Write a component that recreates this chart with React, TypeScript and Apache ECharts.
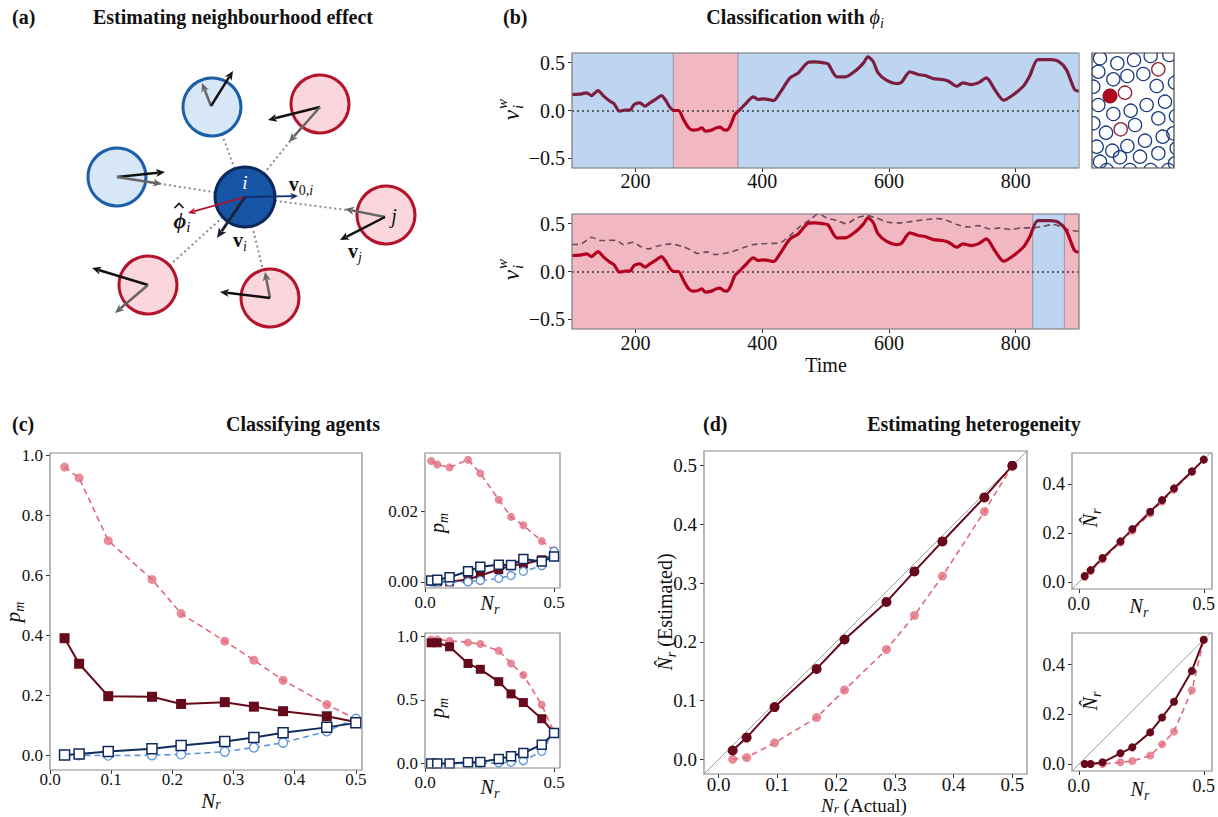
import React, { useEffect, useRef } from "react";
import * as echarts from "echarts";

const SERIF = "Liberation Serif";

// ---------- Panel (b): time series ----------
const signalTime = [100,112,123,131,141,150,160,166,175,183,191,198,207,215,223,233,241,247,255,261,268,276,284,291,299,305,310,320,328,334,339,344,350,357,365,373,386,394,402,410,418,428,444,457,473,483,497,504,518,531,549,560,567,575,583,596,612,620,633,646,657,670,684,694,707,717,730,741,754,767,781,793,812,822,835,854,867,880,893,900];
const signalValue = [0.167,0.170,0.184,0.156,0.208,0.150,0.097,0.073,-0.007,0.003,0.003,0.063,0.080,0.045,0.080,0.122,0.156,0.115,0.028,0.000,0.000,-0.094,-0.180,-0.205,-0.198,-0.180,-0.215,-0.205,-0.180,-0.174,-0.198,-0.205,-0.156,-0.042,0.010,0.063,0.142,0.115,0.122,0.115,0.104,0.184,0.340,0.392,0.503,0.507,0.497,0.486,0.351,0.351,0.424,0.497,0.559,0.514,0.392,0.316,0.281,0.295,0.403,0.375,0.365,0.333,0.323,0.306,0.253,0.288,0.271,0.288,0.340,0.219,0.108,0.149,0.253,0.358,0.531,0.531,0.514,0.427,0.219,0.200];
const refTime = [100,115,131,144,170,181,197,207,220,234,257,273,286,299,313,326,339,352,370,386,407,428,444,460,476,489,502,518,533,549,565,580,602,617,638,659,678,691,707,725,741,759,775,793,809,827,843,859,875,888,900];
const refValue = [0.281,0.288,0.358,0.323,0.326,0.281,0.306,0.264,0.236,0.264,0.288,0.264,0.229,0.188,0.205,0.177,0.188,0.205,0.247,0.281,0.292,0.299,0.375,0.472,0.542,0.601,0.559,0.531,0.497,0.559,0.583,0.559,0.510,0.507,0.524,0.542,0.552,0.535,0.490,0.465,0.479,0.444,0.455,0.438,0.455,0.455,0.472,0.490,0.455,0.427,0.420];
const timeRange = [100, 900];
const topRedBand = [260, 362];
const bottomBlueBand = [827, 877];
const timeTicks = [200, 400, 600, 800];
const vTicks = [-0.5, 0, 0.5];

// ---------- Panels (c) and (d) ----------
const nr = [0.0238, 0.0476, 0.0952, 0.1667, 0.2143, 0.2857, 0.3333, 0.381, 0.4524, 0.5];

const cMainPink = [0.961, 0.925, 0.716, 0.587, 0.473, 0.381, 0.318, 0.251, 0.170, 0.122];
const cMainMaroon = [0.391, 0.306, 0.198, 0.196, 0.172, 0.178, 0.163, 0.148, 0.131, 0.112];
const cMainNavy = [0.002, 0.005, 0.014, 0.023, 0.034, 0.047, 0.060, 0.076, 0.094, 0.109];
const cMainLightBlue = [0.001, 0.001, 0.0, 0.001, 0.004, 0.013, 0.027, 0.043, 0.081, 0.123];

const cTopPink = [0.0344, 0.0334, 0.0326, 0.0348, 0.0309, 0.0234, 0.0185, 0.0161, 0.0116, 0.009];
const cTopMaroon = [0.0002, 0.0, 0.0, 0.0007, 0.0018, 0.0035, 0.0046, 0.0051, 0.0063, 0.0077];
const cTopNavy = [0.0004, 0.0006, 0.0013, 0.003, 0.0043, 0.0049, 0.0048, 0.0065, 0.0058, 0.0072];
const cTopLightBlue = [0.0, 0.0, 0.0, 0.0, 0.0004, 0.001, 0.0018, 0.003, 0.0046, 0.0087];

const cBotPink = [0.974, 0.974, 0.964, 0.951, 0.938, 0.885, 0.786, 0.695, 0.461, 0.245];
const cBotMaroon = [0.948, 0.948, 0.917, 0.786, 0.74, 0.643, 0.547, 0.479, 0.352, 0.24];
const cBotNavy = [0.0, 0.0, 0.0, 0.01, 0.013, 0.036, 0.057, 0.083, 0.148, 0.24];
const cBotLightBlue = [0.0, 0.0, 0.0, 0.0, 0.0, 0.005, 0.01, 0.023, 0.096, 0.245];

const dMainMaroon = [0.015, 0.037, 0.089, 0.154, 0.204, 0.268, 0.320, 0.371, 0.446, 0.5];
const dMainPink = [0.0, 0.003, 0.028, 0.071, 0.118, 0.187, 0.245, 0.312, 0.422, 0.5];
const dTopMaroon = [0.026, 0.05, 0.099, 0.167, 0.217, 0.288, 0.335, 0.383, 0.452, 0.5];
const dTopPink = [0.022, 0.046, 0.093, 0.162, 0.21, 0.28, 0.329, 0.377, 0.45, 0.5];
const dBotMaroon = [0.001, 0.001, 0.008, 0.044, 0.068, 0.128, 0.188, 0.251, 0.375, 0.5];
const dBotPink = [0.001, 0.001, 0.001, 0.008, 0.013, 0.035, 0.08, 0.131, 0.297, 0.5];

const diagonal = [-0.03, 0.53];
const tenthTicks = [0, 0.1, 0.2, 0.3, 0.4, 0.5];
const fifthTicks = [0, 0.2, 0.4, 0.6, 0.8, 1.0];
const halfTicks = [0, 0.5];
const halfOneTicks = [0, 0.5, 1.0];
const smallPmTicks = [0, 0.02];
const smallNrTicks = [0, 0.2, 0.4];

// ---------- colours ----------
const MAROON = "#66091b";
const PINK = "#e06a7c";
const PINK_FILL = "rgba(224,106,124,0.78)";
const NAVY = "#0f2a5c";
const LBLUE = "#5b95d8";
const SIG_MAROON = "#7b1e40";
const SIG_RED = "#b4001f";
const BAND_BLUE = "#bdd5f1";
const BAND_RED = "#f1b8c1";
const FRAME = "#8a8a8a";

// grid layout (page pixels)
const GRIDS = [
  { left: 572, top: 53, width: 507, height: 115 },   // b top
  { left: 572, top: 214, width: 507, height: 115 },  // b bottom
  { left: 50, top: 453, width: 312, height: 317 },   // c main
  { left: 425, top: 453, width: 135, height: 135 },  // c small top
  { left: 425, top: 633, width: 135, height: 135 },  // c small bottom
  { left: 704, top: 451, width: 323, height: 323 },  // d main
  { left: 1072, top: 453, width: 140, height: 136 }, // d small top
  { left: 1072, top: 633, width: 140, height: 138 }, // d small bottom
];

const fmt = (v: number, d: number) => Number(v).toFixed(d).replace("-", "\u2212");

function axis(gi: number, range: number[], ticks: number[], dec: number, fs: number, margin = 7) {
  return {
    type: "value",
    gridIndex: gi,
    min: range[0],
    max: range[1],
    splitLine: { show: false },
    axisLine: { show: false, onZero: false },
    axisTick: { show: true, customValues: ticks, length: 4, lineStyle: { color: "#333", width: 1 } },
    axisLabel: {
      show: true,
      customValues: ticks,
      formatter: (v: number) => "{n|" + fmt(v, dec) + "}",
      color: "#111",
      fontFamily: SERIF,
      fontSize: fs,
      margin,
      hideOverlap: false,
      rich: { n: { fontFamily: SERIF, fontSize: fs, color: "#111", lineHeight: fs } },
    },
  };
}

function pts(ys: number[]) {
  return nr.map((x, i) => [x, ys[i]]);
}

function mk(gi: number, ys: number[], kind: string, size: number) {
  const base: any = { type: "line", xAxisIndex: gi, yAxisIndex: gi, data: pts(ys), symbolSize: size, showSymbol: true, z: 3 };
  if (kind === "pink") {
    return { ...base, symbol: "circle", lineStyle: { color: PINK, width: 1.6, type: [6, 4] }, itemStyle: { color: PINK_FILL } };
  }
  if (kind === "maroonSq") {
    return { ...base, symbol: "rect", lineStyle: { color: MAROON, width: 2 }, itemStyle: { color: MAROON } };
  }
  if (kind === "maroonCirc") {
    return { ...base, symbol: "circle", lineStyle: { color: MAROON, width: 2 }, itemStyle: { color: MAROON } };
  }
  if (kind === "navy") {
    return { ...base, z: 4, symbol: "rect", lineStyle: { color: NAVY, width: 2 }, itemStyle: { color: "#fff", borderColor: NAVY, borderWidth: 1.5 } };
  }
  return { ...base, symbol: "circle", lineStyle: { color: LBLUE, width: 1.6, type: [6, 4] }, itemStyle: { color: "#fff", borderColor: LBLUE, borderWidth: 1.3 } };
}

function diag(gi: number) {
  return {
    type: "line", xAxisIndex: gi, yAxisIndex: gi, silent: true, symbol: "none", z: 1,
    data: [[diagonal[0], diagonal[0]], [diagonal[1], diagonal[1]]],
    lineStyle: { color: "#a0a0a0", width: 1 },
  };
}

// ---------- graphic helpers ----------
function txt(x: number, y: number, text: string, size: number, o: any = {}) {
  const align = o.align || "center";
  return {
    type: "text", x, y, z: 20, rotation: o.rotation || 0,
    style: {
      text, fontFamily: SERIF, fontSize: size,
      fontWeight: o.bold ? "bold" : "normal",
      fontStyle: o.italic ? "italic" : "normal",
      fill: o.color || "#111",
      align, verticalAlign: "middle", textAlign: align, textVerticalAlign: "middle",
      rich: o.rich,
    },
  };
}

function mathRich(size: number, color = "#111", lh = size + 6) {
  const sub = Math.round(size * 0.68);
  return {
    it: { fontFamily: SERIF, fontStyle: "italic", fontSize: size, lineHeight: lh, color },
    rm: { fontFamily: SERIF, fontSize: size, lineHeight: lh, color },
    bd: { fontFamily: SERIF, fontWeight: "bold", fontSize: size, lineHeight: lh, color },
    bi: { fontFamily: SERIF, fontWeight: "bold", fontStyle: "italic", fontSize: size, lineHeight: lh, color },
    sub: { fontFamily: SERIF, fontStyle: "italic", fontSize: sub, lineHeight: sub, verticalAlign: "bottom", color },
    subrm: { fontFamily: SERIF, fontSize: sub, lineHeight: sub, verticalAlign: "bottom", color },
  };
}

function math(x: number, y: number, text: string, size: number, rotation = 0, color = "#111", lh?: number) {
  return txt(x, y, text, size, { rotation, rich: mathRich(size, color, lh ?? size + 6), color });
}

function arrow(x1: number, y1: number, x2: number, y2: number, color: string, width: number, head = 9, headW = 8) {
  const dx = x2 - x1, dy = y2 - y1;
  const L = Math.hypot(dx, dy);
  const ux = dx / L, uy = dy / L;
  const bx = x2 - ux * head, by = y2 - uy * head;
  const px = -uy, py = ux;
  return [
    { type: "line", z: 6, shape: { x1, y1, x2: bx + ux * 2, y2: by + uy * 2 }, style: { stroke: color, lineWidth: width, lineCap: "butt" } },
    {
      type: "polygon", z: 6,
      shape: { points: [[x2, y2], [bx + (px * headW) / 2, by + (py * headW) / 2], [bx + ux * 2.5, by + uy * 2.5], [bx - (px * headW) / 2, by - (py * headW) / 2]] },
      style: { fill: color },
    },
  ];
}

function buildGraphics() {
  const els: any[] = [];
  // ---- titles ----
  els.push(txt(12, 17, "(a)", 20, { bold: true, align: "left" }));
  els.push(txt(233, 17, "Estimating neighbourhood effect", 20, { bold: true }));
  els.push(txt(503, 17, "(b)", 20, { bold: true, align: "left" }));
  els.push(math(795, 17, "{bd|Classification with }{it|\u03D5}{sub|i}", 20));
  els.push(txt(12, 424, "(c)", 20, { bold: true, align: "left" }));
  els.push(txt(303, 424, "Classifying agents", 20, { bold: true }));
  els.push(txt(703, 424, "(d)", 20, { bold: true, align: "left" }));
  els.push(txt(974, 424, "Estimating heterogeneity", 20, { bold: true }));

  // ---- panel (a) diagram ----
  const cx = 245, cy = 197, R = 29;
  const neighbours = [
    { x: 212, y: 107, blue: true },
    { x: 117, y: 177, blue: true },
    { x: 320, y: 104, blue: false },
    { x: 386, y: 215, blue: false },
    { x: 148, y: 285, blue: false },
    { x: 270, y: 298, blue: false },
  ];
  neighbours.forEach((n) => {
    els.push({ type: "line", z: 2, shape: { x1: cx, y1: cy, x2: n.x, y2: n.y }, style: { stroke: "#8c8c8c", lineWidth: 2, lineDash: [2, 3] } });
  });
  neighbours.forEach((n) => {
    els.push({
      type: "circle", z: 3, shape: { cx: n.x, cy: n.y, r: R },
      style: n.blue ? { fill: "#d8e7f7", stroke: "#1b5fa9", lineWidth: 3 } : { fill: "#fbd6dd", stroke: "#b3142c", lineWidth: 3 },
    });
  });
  els.push({ type: "circle", z: 3, shape: { cx, cy, r: 30 }, style: { fill: "#1655a6", stroke: "#0b2858", lineWidth: 3 } });

  const K = "#111", G = "#666";
  const arrows = [
    [211, 106, 202, 83, G, 2.5], [211, 106, 233, 71, K, 2.5],
    [117, 177, 165, 172, K, 2.5], [117, 177, 162, 184, G, 2.5],
    [320, 107, 268, 120, K, 2.5], [320, 107, 289, 142, G, 2.5],
    [385, 217, 345, 209, G, 2.5], [385, 217, 340, 240, K, 2.5],
    [148, 285, 92, 268, K, 2.5], [148, 285, 115, 313, G, 2.5],
    [270, 298, 265, 272, G, 2.5], [270, 298, 220, 292, K, 2.5],
  ];
  arrows.forEach((a: any) => els.push(...arrow(a[0], a[1], a[2], a[3], a[4], a[5])));
  els.push(...arrow(cx, cy, 298, 196, "#0c2a6a", 1.6, 8, 7));
  els.push(...arrow(cx, cy, 188, 213, "#b0102a", 1.6, 8, 7));
  els.push(...arrow(cx, cy, 217, 238, "#1e2232", 2.8, 10, 9));

  els.push(txt(245, 182, "i", 19, { italic: true, color: "#ffffff" }));
  els.push(math(301, 184, "{bd|v}{subrm|0,}{sub|i}", 20));
  // hat-phi with subscript: the hat is a small drawn caret
  els.push(math(182, 220, "{bi|\u03D5}{sub|i}", 22));
  els.push({ type: "polyline", z: 20, shape: { points: [[174.5, 208], [179, 203.5], [183.5, 208]] }, style: { stroke: "#111", lineWidth: 1.7, fill: "none" } });
  els.push(math(240, 240, "{bd|v}{sub|i}", 20));
  els.push(txt(394, 216, "j", 20, { italic: true }));
  els.push(math(355, 251, "{bd|v}{sub|j}", 20));

  // ---- panel (b) inset of agents ----
  const ib = { x: 1092, y: 53, w: 82, h: 115 };
  const navyCircles = [
    [660, 55], [712, 70], [762, 60], [812, 48], [868, 45],
    [655, 95], [700, 118], [742, 108], [790, 102], [885, 128], [830, 138],
    [655, 195], [700, 222], [752, 212], [800, 195], [855, 185], [888, 228],
    [678, 278], [765, 255], [835, 235], [880, 280],
    [650, 320], [697, 332], [742, 318], [795, 302], [848, 290], [890, 325],
    [660, 365], [720, 352], [780, 350], [835, 340], [885, 370],
    [680, 390], [750, 390], [812, 390], [865, 390], [640, 140], [640, 250],
  ];
  const redOutline = [[835, 88], [735, 158], [722, 268]];
  const zx = (v: number) => 880 + v / 3;
  const zy = (v: number) => 40 + v / 3;
  navyCircles.forEach((c) => els.push({ type: "circle", z: 4, shape: { cx: zx(c[0]), cy: zy(c[1]), r: 6.6 }, style: { fill: "none", stroke: "#183a7c", lineWidth: 1.3 } }));
  redOutline.forEach((c) => els.push({ type: "circle", z: 4, shape: { cx: zx(c[0]), cy: zy(c[1]), r: 6.6 }, style: { fill: "none", stroke: "#8e1a2c", lineWidth: 1.3 } }));
  els.push({ type: "circle", z: 4, shape: { cx: zx(690), cy: zy(168), r: 7 }, style: { fill: "#b3061f", stroke: "#7a0b1a", lineWidth: 1 } });
  // masks around inset
  els.push({ type: "rect", z: 5, shape: { x: ib.x - 14, y: ib.y - 14, width: ib.w + 28, height: 14 }, style: { fill: "#fff" } });
  els.push({ type: "rect", z: 5, shape: { x: ib.x - 14, y: ib.y + ib.h, width: ib.w + 28, height: 14 }, style: { fill: "#fff" } });
  els.push({ type: "rect", z: 5, shape: { x: ib.x - 14, y: ib.y - 14, width: 14, height: ib.h + 28 }, style: { fill: "#fff" } });
  els.push({ type: "rect", z: 5, shape: { x: ib.x + ib.w, y: ib.y - 14, width: 14, height: ib.h + 28 }, style: { fill: "#fff" } });
  els.push({ type: "rect", z: 6, shape: { x: ib.x, y: ib.y, width: ib.w, height: ib.h }, style: { fill: "none", stroke: "#444", lineWidth: 1.2 } });

  // ---- frames of all plots ----
  GRIDS.forEach((g) => {
    els.push({ type: "rect", z: 30, silent: true, shape: { x: g.left, y: g.top, width: g.width, height: g.height }, style: { fill: "none", stroke: FRAME, lineWidth: 1.2 } });
  });

  // ---- axis titles ----
  const vw = (x: number, y: number) => ({
    type: "group", x, y, rotation: Math.PI / 2, z: 20,
    children: [
      { type: "text", x: 2, y: 0, z: 20, style: { text: "v", fontFamily: SERIF, fontStyle: "italic", fontSize: 23, fill: "#111", align: "right", verticalAlign: "middle", textAlign: "right", textVerticalAlign: "middle" } },
      { type: "text", x: 3, y: -9, z: 20, style: { text: "w", fontFamily: SERIF, fontStyle: "italic", fontSize: 15, fill: "#111", align: "left", verticalAlign: "middle", textAlign: "left", textVerticalAlign: "middle" } },
      { type: "text", x: 3, y: 7, z: 20, style: { text: "i", fontFamily: SERIF, fontStyle: "italic", fontSize: 15, fill: "#111", align: "left", verticalAlign: "middle", textAlign: "left", textVerticalAlign: "middle" } },
    ],
  });
  els.push(vw(511, 112));
  els.push(vw(511, 272));
  els.push(txt(826, 365, "Time", 20));

  els.push(math(13, 612, "{it|p}{sub|m}", 21, Math.PI / 2));
  els.push(math(211, 801, "{it|N}{sub|r}", 21, 0, "#111", 21));
  els.push(math(437, 523, "{it|p}{sub|m}", 20, Math.PI / 2));
  els.push(math(437, 708, "{it|p}{sub|m}", 20, Math.PI / 2));
  els.push(math(490, 603, "{it|N}{sub|r}", 20));
  els.push(math(490, 787, "{it|N}{sub|r}", 20));

  els.push(math(665, 612, "{it|N\u0302}{sub|r}{rm| (Estimated)}", 20, Math.PI / 2));
  els.push(math(864, 805, "{it|N}{sub|r}{rm| (Actual)}", 19, 0, "#111", 19));
  els.push(math(1090, 518, "{it|N\u0302}{sub|r}", 20, Math.PI / 2));
  els.push(math(1090, 701, "{it|N\u0302}{sub|r}", 20, Math.PI / 2));
  els.push(math(1139, 606, "{it|N}{sub|r}", 20));
  els.push(math(1140, 789, "{it|N}{sub|r}", 20));
  return els;
}

function buildOption() {
  const xAxes = [
    axis(0, timeRange, timeTicks, 0, 20, 3),
    axis(1, timeRange, timeTicks, 0, 20, 4),
    axis(2, [0, 0.51], tenthTicks, 1, 17, 1),
    axis(3, [0, 0.523], halfTicks, 1, 17, 6),
    axis(4, [0, 0.523], halfTicks, 1, 17, 6),
    axis(5, [-0.025, 0.525], tenthTicks, 1, 19, 1),
    axis(6, [-0.027, 0.527], halfTicks, 1, 18, 6),
    axis(7, [-0.027, 0.527], halfTicks, 1, 18, 6),
  ];
  const yAxes = [
    axis(0, [-0.6, 0.6], vTicks, 1, 20),
    axis(1, [-0.6, 0.6], vTicks, 1, 20),
    axis(2, [-0.048, 1.008], fifthTicks, 1, 17),
    axis(3, [-0.00175, 0.0367], smallPmTicks, 2, 17),
    axis(4, [-0.035, 1.025], halfOneTicks, 1, 17),
    axis(5, [-0.025, 0.525], tenthTicks, 1, 19),
    axis(6, [-0.027, 0.527], smallNrTicks, 1, 18),
    axis(7, [-0.027, 0.527], smallNrTicks, 1, 18),
  ];

  const signal = signalTime.map((t, i) => [t, signalValue[i]]);
  const reference = refTime.map((t, i) => [t, refValue[i]]);
  const zeroLine = {
    silent: true, symbol: ["none", "none"], label: { show: false },
    lineStyle: { color: "#3a3a3a", type: [2, 3], width: 1.5 }, data: [{ yAxis: 0 }],
  };
  const band = (a: number, b: number, color: string) => [{ xAxis: a, itemStyle: { color, borderColor: "rgba(110,110,130,0.45)", borderWidth: 1 } }, { xAxis: b }];

  const series: any[] = [
    {
      type: "line", xAxisIndex: 0, yAxisIndex: 0, data: signal, showSymbol: false, smooth: 0.25, z: 5,
      lineStyle: { width: 3.2 },
      markArea: {
        silent: true,
        data: [
          band(timeRange[0], topRedBand[0], BAND_BLUE),
          band(topRedBand[0], topRedBand[1], BAND_RED),
          band(topRedBand[1], timeRange[1], BAND_BLUE),
        ],
      },
      markLine: zeroLine,
    },
    {
      type: "line", xAxisIndex: 1, yAxisIndex: 1, data: reference, showSymbol: false, smooth: 0.25, z: 4,
      lineStyle: { color: "#6c4a5c", width: 1.6, type: [6, 4] },
      itemStyle: { color: "#6c4a5c" },
      markArea: {
        silent: true,
        data: [
          band(timeRange[0], bottomBlueBand[0], BAND_RED),
          band(bottomBlueBand[0], bottomBlueBand[1], BAND_BLUE),
          band(bottomBlueBand[1], timeRange[1], BAND_RED),
        ],
      },
      markLine: zeroLine,
    },
    { type: "line", xAxisIndex: 1, yAxisIndex: 1, data: signal, showSymbol: false, smooth: 0.25, z: 5, lineStyle: { width: 3.2 } },

    mk(2, cMainPink, "pink", 9), mk(2, cMainMaroon, "maroonSq", 10), mk(2, cMainLightBlue, "lblue", 9), mk(2, cMainNavy, "navy", 10),
    mk(3, cTopPink, "pink", 8), mk(3, cTopMaroon, "maroonSq", 9), mk(3, cTopLightBlue, "lblue", 8), mk(3, cTopNavy, "navy", 9),
    mk(4, cBotPink, "pink", 8), mk(4, cBotMaroon, "maroonSq", 9), mk(4, cBotLightBlue, "lblue", 8), mk(4, cBotNavy, "navy", 9),

    diag(5), mk(5, dMainPink, "pink", 9), mk(5, dMainMaroon, "maroonCirc", 10),
    diag(6), mk(6, dTopPink, "pink", 8), mk(6, dTopMaroon, "maroonCirc", 8),
    diag(7), mk(7, dBotPink, "pink", 8), mk(7, dBotMaroon, "maroonCirc", 8),
  ];

  return {
    animation: false,
    backgroundColor: "#ffffff",
    textStyle: { fontFamily: SERIF },
    grid: GRIDS.map((g) => ({ ...g, show: false })),
    xAxis: xAxes,
    yAxis: yAxes,
    visualMap: [
      {
        type: "piecewise", show: false, seriesIndex: 0, dimension: 0,
        pieces: [
          { lt: topRedBand[0], color: SIG_MAROON },
          { gte: topRedBand[0], lt: topRedBand[1], color: SIG_RED },
          { gte: topRedBand[1], color: SIG_MAROON },
        ],
      },
      {
        type: "piecewise", show: false, seriesIndex: 2, dimension: 0,
        pieces: [
          { lt: bottomBlueBand[0], color: SIG_RED },
          { gte: bottomBlueBand[0], lt: bottomBlueBand[1], color: SIG_MAROON },
          { gte: bottomBlueBand[1], color: SIG_RED },
        ],
      },
    ],
    series,
    graphic: { elements: buildGraphics() },
  };
}

export default function App() {
  const ref = useRef<HTMLDivElement>(null);
  useEffect(() => {
    if (!ref.current) return;
    const chart = echarts.init(ref.current, null, { renderer: "svg" });
    chart.setOption(buildOption() as any);
    return () => chart.dispose();
  }, []);
  return (
    <div
      ref={ref}
      style={{ position: "fixed", left: 0, top: 0, width: 1218, height: 817, background: "#fff" }}
    />
  );
}
